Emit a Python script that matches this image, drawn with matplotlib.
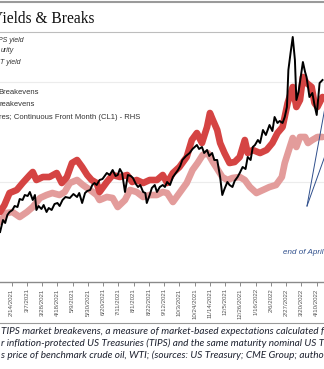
import matplotlib.pyplot as plt
import matplotlib.dates as mdates
from matplotlib.lines import Line2D
import pandas as pd

# WTI crude, continuous front month, USD/bbl (right axis)
wti_dates = [
    "2021-01-29", "2021-02-02", "2021-02-05", "2021-02-08", "2021-02-11", "2021-02-15",
    "2021-02-18", "2021-02-22", "2021-02-25", "2021-03-01", "2021-03-04", "2021-03-08",
    "2021-03-11", "2021-03-15", "2021-03-18", "2021-03-20", "2021-03-23", "2021-03-27",
    "2021-03-30", "2021-04-03", "2021-04-06", "2021-04-10", "2021-04-14", "2021-04-18",
    "2021-04-21", "2021-04-25", "2021-04-29", "2021-05-05", "2021-05-10", "2021-05-15",
    "2021-05-18", "2021-05-22", "2021-05-26", "2021-05-29", "2021-06-02", "2021-06-05",
    "2021-06-08", "2021-06-11", "2021-06-15", "2021-06-19", "2021-06-25", "2021-06-29",
    "2021-07-03", "2021-07-07", "2021-07-10", "2021-07-13", "2021-07-16", "2021-07-20",
    "2021-07-24", "2021-07-28", "2021-07-31", "2021-08-04", "2021-08-07", "2021-08-10",
    "2021-08-14", "2021-08-17", "2021-08-19", "2021-08-23", "2021-08-26", "2021-08-30",
    "2021-09-02", "2021-09-06", "2021-09-10", "2021-09-13", "2021-09-16", "2021-09-20",
    "2021-09-24", "2021-09-28", "2021-10-01", "2021-10-04", "2021-10-07", "2021-10-12",
    "2021-10-17", "2021-10-21", "2021-10-27", "2021-10-30", "2021-11-03", "2021-11-06",
    "2021-11-10", "2021-11-13", "2021-11-17", "2021-11-20", "2021-11-24", "2021-11-28",
    "2021-12-01", "2021-12-04", "2021-12-08", "2021-12-11", "2021-12-15", "2021-12-18",
    "2021-12-22", "2021-12-25", "2021-12-29", "2022-01-02", "2022-01-05", "2022-01-09",
    "2022-01-12", "2022-01-15", "2022-01-19", "2022-01-22", "2022-01-26", "2022-01-30",
    "2022-02-04", "2022-02-08", "2022-02-11", "2022-02-15", "2022-02-18", "2022-02-22",
    "2022-02-25", "2022-02-28", "2022-03-02", "2022-03-05", "2022-03-08", "2022-03-11",
    "2022-03-13", "2022-03-16", "2022-03-18", "2022-03-22", "2022-03-25", "2022-03-27",
    "2022-03-31", "2022-04-04", "2022-04-07", "2022-04-10", "2022-04-14", "2022-04-18",
]
wti = [
    50.0, 54.8, 53.6, 56.8, 58.0, 58.8,
    60.4, 60.0, 63.2, 62.8, 64.8, 64.4,
    66.0, 62.8, 64.8, 58.8, 60.4, 59.2,
    60.8, 58.0, 59.6, 58.8, 61.2, 61.6,
    60.4, 62.8, 64.0, 63.6, 65.2, 64.0,
    65.6, 61.6, 65.6, 66.4, 66.8, 68.8,
    69.6, 68.8, 70.8, 71.2, 73.6, 72.8,
    74.8, 72.4, 72.8, 75.2, 73.6, 66.0,
    72.8, 72.4, 71.6, 69.2, 68.0, 68.8,
    66.0, 65.6, 61.6, 64.8, 67.6, 68.8,
    66.0, 68.0, 68.8, 68.0, 70.0, 68.8,
    72.0, 73.6, 74.8, 76.4, 78.8, 80.4,
    81.6, 83.2, 84.8, 83.2, 84.0, 81.6,
    82.8, 80.4, 81.6, 78.8, 78.8, 72.0,
    64.8, 67.2, 70.0, 68.8, 68.0, 70.4,
    72.0, 73.6, 76.0, 75.2, 80.0, 78.8,
    84.0, 84.8, 86.8, 85.6, 90.8, 88.8,
    92.8, 90.4, 96.0, 93.6, 94.4, 93.6,
    96.0, 100.0, 114.8, 121.6, 128.0, 118.8,
    102.8, 106.0, 110.0, 118.0, 114.0, 112.0,
    104.0, 105.6, 100.8, 96.8, 109.6, 110.8,
]

# 5-year breakevens, % (left axis)
be5_dates = [
    "2021-01-29", "2021-02-04", "2021-02-11", "2021-02-21", "2021-03-01", "2021-03-11",
    "2021-03-15", "2021-03-20", "2021-03-29", "2021-04-07", "2021-04-17", "2021-04-24",
    "2021-05-01", "2021-05-08", "2021-05-15", "2021-05-22", "2021-05-29", "2021-06-04",
    "2021-06-11", "2021-06-15", "2021-06-25", "2021-07-03", "2021-07-13", "2021-07-23",
    "2021-07-30", "2021-08-05", "2021-08-14", "2021-08-23", "2021-09-02", "2021-09-10",
    "2021-09-16", "2021-09-24", "2021-10-03", "2021-10-13", "2021-10-20", "2021-10-27",
    "2021-11-03", "2021-11-10", "2021-11-14", "2021-11-18", "2021-11-24", "2021-11-28",
    "2021-12-04", "2021-12-11", "2021-12-18", "2021-12-25", "2022-01-01", "2022-01-05",
    "2022-01-12", "2022-01-22", "2022-01-31", "2022-02-08", "2022-02-15", "2022-02-22",
    "2022-03-01", "2022-03-08", "2022-03-13", "2022-03-18", "2022-03-22", "2022-03-27",
    "2022-04-03", "2022-04-07", "2022-04-11", "2022-04-18",
]
be5 = [
    1.70, 1.77, 1.89, 1.92, 1.99, 2.07,
    2.10, 2.02, 2.05, 2.05, 2.09, 1.99,
    2.05, 2.19, 2.22, 2.15, 2.07, 2.02,
    1.99, 1.90, 2.00, 2.07, 2.05, 2.07,
    2.00, 2.02, 1.99, 2.02, 2.02, 2.07,
    1.99, 2.09, 2.15, 2.25, 2.42, 2.49,
    2.39, 2.55, 2.69, 2.62, 2.52, 2.39,
    2.29, 2.19, 2.20, 2.25, 2.42, 2.29,
    2.32, 2.29, 2.32, 2.39, 2.49, 2.55,
    2.79, 2.95, 2.75, 2.82, 3.05, 2.99,
    2.95, 2.79, 2.75, 2.85,
]

# 10-year breakevens, % (left axis)
be10_dates = [
    "2021-01-29", "2021-02-07", "2021-02-15", "2021-02-25", "2021-03-07", "2021-03-15",
    "2021-03-25", "2021-04-03", "2021-04-11", "2021-04-21", "2021-04-28", "2021-05-05",
    "2021-05-15", "2021-05-23", "2021-06-02", "2021-06-11", "2021-06-15", "2021-06-25",
    "2021-07-03", "2021-07-10", "2021-07-20", "2021-07-27", "2021-08-05", "2021-08-14",
    "2021-08-23", "2021-09-02", "2021-09-10", "2021-09-16", "2021-09-24", "2021-10-03",
    "2021-10-13", "2021-10-21", "2021-10-28", "2021-11-04", "2021-11-11", "2021-11-18",
    "2021-11-25", "2021-12-01", "2021-12-08", "2021-12-15", "2021-12-25", "2022-01-01",
    "2022-01-08", "2022-01-17", "2022-01-26", "2022-02-04", "2022-02-13", "2022-02-21",
    "2022-02-25", "2022-03-04", "2022-03-08", "2022-03-13", "2022-03-18", "2022-03-25",
    "2022-03-29", "2022-04-04", "2022-04-11", "2022-04-18",
]
be10 = [
    1.60, 1.69, 1.70, 1.65, 1.70, 1.75,
    1.84, 1.87, 1.89, 1.87, 1.90, 1.99,
    2.02, 1.97, 1.92, 1.87, 1.82, 1.85,
    1.84, 1.75, 1.82, 1.92, 1.90, 1.85,
    1.87, 1.87, 1.90, 1.89, 1.80, 1.89,
    1.99, 2.12, 2.19, 2.27, 2.29, 2.20,
    2.12, 2.05, 2.02, 2.04, 2.05, 2.02,
    1.95, 1.89, 1.92, 1.95, 1.97, 2.05,
    2.19, 2.35, 2.44, 2.35, 2.45, 2.45,
    2.39, 2.42, 2.45, 2.45,
]

tick_dates = pd.date_range("2021-02-14", "2022-04-10", freq="21D")
tick_labels = [f"{d.month}/{d.day}/{d.year}" for d in tick_dates]

legend_top = ["PS yield", "urity", "T yield"]
legend_bottom = ["Breakevens", "reakevens", "res; Continuous Front Month (CL1) - RHS"]
caption = [
    "TIPS market breakevens, a measure of market-based expectations calculated f",
    "r inflation-protected US Treasuries (TIPS) and the same maturity nominal US T",
    "s price of benchmark crude oil, WTI; (sources: US Treasury; CME Group; autho",
]

W, H = 324, 369
fig = plt.figure(figsize=(W / 100, H / 100), dpi=100)


def fx(px):
    return px / W


def fy(py):
    return 1 - py / H


plot_top, plot_bot = 32, 282
ax = fig.add_axes([0, fy(plot_bot), 1, (plot_bot - plot_top) / H])
ax2 = ax.twinx()

anchor = pd.Timestamp("2021-02-14")
px_per_day = 305 / 420
x0 = anchor - pd.Timedelta(days=11.7 / px_per_day)
x1 = anchor + pd.Timedelta(days=(W - 11.7) / px_per_day)

ax.plot(pd.to_datetime(be10_dates), be10, color="#e39c9b", lw=4.8,
        solid_joinstyle="round", solid_capstyle="round", zorder=2)
ax.plot(pd.to_datetime(be5_dates), be5, color="#d54443", lw=4.8,
        solid_joinstyle="round", solid_capstyle="round", zorder=3)
ax2.plot(pd.to_datetime(wti_dates), wti, color="black", lw=1.4,
         solid_joinstyle="round")

ax.set_xlim(x0, x1)
ax.set_ylim(1.0, 3.5)
ax2.set_ylim(30, 130)

ax.set_yticks([2.0, 3.0])
ax.yaxis.grid(True, color="#ececec", lw=0.8)
ax.set_axisbelow(True)
ax.tick_params(axis="y", left=False, labelleft=False)
ax2.tick_params(axis="y", right=False, labelright=False)

for s in ["top", "left", "right"]:
    ax.spines[s].set_visible(False)
for s in ax2.spines.values():
    s.set_visible(False)
ax.spines["bottom"].set_color("#8a8a8a")
ax.spines["bottom"].set_linewidth(1.0)

ax.set_xticks(mdates.date2num(tick_dates))
ax.set_xticklabels(tick_labels, rotation=90, fontsize=4.4,
                   family="Liberation Sans", color="#555555")
ax.tick_params(axis="x", length=3, width=0.6, color="#777777", pad=1.5)

# header
fig.add_artist(Line2D([0, 1], [fy(1.5), fy(1.5)], color="#9a9a9a", lw=1.5))
fig.add_artist(Line2D([0, 1], [fy(32), fy(32)], color="#bdbdbd", lw=0.8))
fig.text(fx(-8), fy(23), "Yields & Breaks", family="Liberation Serif",
         fontsize=11.2, color="#111111", ha="left", va="baseline")

# legend remnants
for txt, xe, yc in zip(legend_top, [24, 14, 21], [40, 51, 62]):
    fig.text(fx(xe), fy(yc), txt, family="Liberation Sans", style="italic",
             fontsize=5.0, color="#333333", ha="right", va="center")
for txt, xe, yc in zip(legend_bottom, [39, 35, 140], [92, 104, 117]):
    fig.text(fx(xe), fy(yc), txt, family="Liberation Sans",
             fontsize=5.5, color="#333333", ha="right", va="center")

# annotation
blue = "#2f4f8c"
fig.text(fx(283), fy(252), "end of April", family="Liberation Sans",
         style="italic", fontsize=5.8, color=blue, ha="left", va="center")
fig.add_artist(Line2D([fx(307), fx(326)], [fy(206), fy(102)], color=blue, lw=0.7))
fig.add_artist(Line2D([fx(307), fx(326)], [fy(206), fy(153)], color=blue, lw=0.7))

# footnote
fig.add_artist(Line2D([0, 1], [fy(322.5), fy(322.5)], color="#9a9a9a", lw=0.8))
for i, line in enumerate(caption):
    fig.text(fx(1), fy(331 + 12.3 * i), line, family="Lato", style="italic",
             fontsize=7.2, color="#1e2230", ha="left", va="center")

fig.savefig("out.png", dpi=100)
